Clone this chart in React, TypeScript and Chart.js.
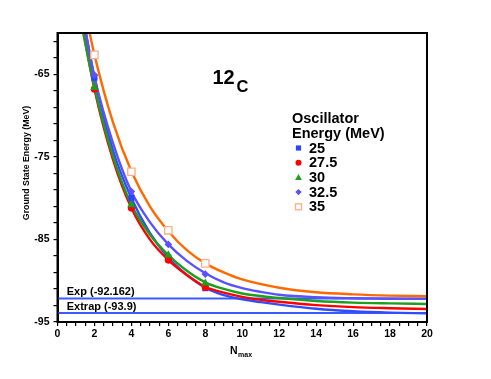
import React, { useEffect, useRef } from 'react';
import { Chart, registerables } from 'chart.js';
Chart.register(...registerables);

// ---- data ----
const seriesLabels = ['25', '27.5', '30', '32.5', '35'];
const pointN = [2, 4, 6, 8];
const points25 = [-65.4, -80.0, -87.2, -90.9];
const points275 = [-66.8, -81.2, -87.5, -90.8];
const points30 = [-66.6, -80.8, -86.9, -90.3];
const points325 = [-65.1, -79.2, -85.6, -89.2];
const points35 = [-62.65, -76.8, -83.9, -87.9];

const curve25N = [1.4, 2, 3, 4, 5, 6, 7, 8, 9, 10, 11, 12, 14, 16, 18, 20];
const curve25E = [-58.3, -65.4, -74.2, -80.0, -84.2, -87.2, -89.3, -90.85, -91.75, -92.25, -92.6, -92.9, -93.4, -93.7, -93.87, -93.95];
const curve275N = [1.3, 2, 3, 4, 5, 6, 7, 8, 9, 10, 11, 12, 14, 16, 18, 20];
const curve275E = [-58.6, -66.8, -75.3, -81.2, -85.0, -87.5, -89.3, -90.75, -91.45, -91.95, -92.3, -92.55, -92.95, -93.2, -93.33, -93.42];
const curve30N = [1.3, 2, 3, 4, 5, 6, 7, 8, 9, 10, 11, 12, 14, 16, 18, 20];
const curve30E = [-59.0, -66.6, -74.9, -80.8, -84.4, -86.9, -88.8, -90.2, -91.0, -91.55, -91.85, -92.1, -92.45, -92.65, -92.75, -92.82];
const curve325N = [1.4, 2, 3, 4, 5, 6, 7, 8, 9, 10, 11, 12, 14, 16, 18, 20];
const curve325E = [-58.4, -65.3, -73.3, -79.2, -82.9, -85.6, -87.6, -89.1, -90.2, -90.9, -91.35, -91.7, -92.0, -92.12, -92.18, -92.2];
const curve35N = [1.6, 2, 3, 4, 5, 6, 7, 8, 9, 10, 12, 14, 16, 18, 20];
const curve35E = [-58.5, -62.65, -70.8, -76.75, -81.0, -84.0, -86.3, -87.9, -89.0, -89.85, -90.85, -91.4, -91.65, -91.8, -91.88];

const expLabel = 'Exp';
const expValue = -92.162;
const extrapLabel = 'Extrap';
const extrapValue = -93.9;
const refRangeN = [0, 20];

const xMajorTicks = [0, 2, 4, 6, 8, 10, 12, 14, 16, 18, 20];
const yMajorTicks = [-95, -85, -75, -65];
const xMinorStep = 0.5;
const yMinorStep = 2;

const nucleusMass = '12';
const nucleusSymbol = 'C';
const legendTitle = ['Oscillator', 'Energy (MeV)'];
const xTitleMain = 'N';
const xTitleSub = 'max';
const yTitle = 'Ground State Energy (MeV)';

// ---- styles ----
const FONT = "'Liberation Sans', Arial, Helvetica, sans-serif";
const styles = [
  { line: '#2f4dff', fill: '#2a44ff', border: '#2a44ff', shape: 'rect', r: 4.3, bw: 0 },
  { line: '#ff0000', fill: '#ff0000', border: '#ff0000', shape: 'circle', r: 3.6, bw: 0 },
  { line: '#1e9e1e', fill: '#1e9e1e', border: '#1e9e1e', shape: 'triangle', r: 4.8, bw: 0 },
  { line: '#5b52ff', fill: '#5b52ff', border: '#5b52ff', shape: 'rectRot', r: 3.8, bw: 0 },
  { line: '#ff6a00', fill: '#ffffff', border: '#ffae88', shape: 'rect', r: 5.2, bw: 1.3 },
];
const REF_COLOR = '#3a5cff';

const zip = (xs: number[], ys: number[]) => xs.map((x, i) => ({ x, y: ys[i] }));

function buildTicks(min: number, max: number, step: number) {
  const out: { value: number }[] = [];
  const n = Math.round((max - min) / step);
  for (let i = 0; i <= n; i++) out.push({ value: +(min + i * step).toFixed(3) });
  return out;
}

function legendMarker(ctx: CanvasRenderingContext2D, i: number, x: number, y: number) {
  const st = styles[i];
  ctx.save();
  ctx.fillStyle = st.fill;
  ctx.strokeStyle = st.border;
  ctx.beginPath();
  if (i === 0) {
    ctx.fillRect(x - 2.6, y - 2.6, 5.2, 5.2);
  } else if (i === 1) {
    ctx.arc(x, y, 3, 0, Math.PI * 2);
    ctx.fill();
  } else if (i === 2) {
    ctx.moveTo(x, y - 3.4);
    ctx.lineTo(x + 3.4, y + 2.6);
    ctx.lineTo(x - 3.4, y + 2.6);
    ctx.closePath();
    ctx.fill();
  } else if (i === 3) {
    ctx.moveTo(x, y - 3.2);
    ctx.lineTo(x + 3.2, y);
    ctx.lineTo(x, y + 3.2);
    ctx.lineTo(x - 3.2, y);
    ctx.closePath();
    ctx.fill();
  } else {
    ctx.lineWidth = 1.3;
    ctx.fillStyle = '#fff';
    ctx.fillRect(x - 3, y - 3, 6, 6);
    ctx.strokeRect(x - 3, y - 3, 6, 6);
  }
  ctx.restore();
}

const decor = {
  id: 'decor',
  afterDatasetsDraw(chart: any) {
    const { ctx, chartArea: a, scales } = chart;
    const xs = scales.x, ys = scales.y;
    ctx.save();
    // frame
    ctx.strokeStyle = '#000';
    ctx.lineWidth = 2;
    ctx.strokeRect(a.left, a.top, a.right - a.left, a.bottom - a.top);

    // ref line labels
    ctx.fillStyle = '#000';
    ctx.textAlign = 'left';
    ctx.textBaseline = 'alphabetic';
    ctx.font = `bold 11px ${FONT}`;
    ctx.fillText(`${expLabel} (${expValue})`, xs.getPixelForValue(0.5), ys.getPixelForValue(expValue) - 3.5);
    ctx.fillText(`${extrapLabel} (${extrapValue})`, xs.getPixelForValue(0.5), ys.getPixelForValue(extrapValue) - 2.5);

    // nucleus label
    ctx.font = `bold 20px ${FONT}`;
    ctx.fillText(nucleusMass, 212.5, 83.5);
    ctx.font = `bold 16.5px ${FONT}`;
    ctx.fillText(nucleusSymbol, 236.5, 92);

    // legend
    ctx.font = `bold 14.5px ${FONT}`;
    ctx.textBaseline = 'middle';
    ctx.fillText(legendTitle[0], 292, 118.5);
    ctx.fillText(legendTitle[1], 292, 134);
    seriesLabels.forEach((lab, i) => {
      const yy = 148 + i * 14.7;
      legendMarker(ctx, i, 298.5, yy);
      ctx.fillStyle = '#000';
      ctx.fillText(lab, 309, yy + 0.5);
    });
    ctx.restore();

    // axis titles
    ctx.save();
    ctx.fillStyle = '#000';
    ctx.font = `bold 8.8px ${FONT}`;
    ctx.textAlign = 'center';
    ctx.textBaseline = 'middle';
    ctx.translate(27, 163);
    ctx.rotate(-Math.PI / 2);
    ctx.fillText(yTitle, 0, 0);
    ctx.restore();

    ctx.save();
    ctx.fillStyle = '#000';
    ctx.textAlign = 'left';
    ctx.textBaseline = 'alphabetic';
    ctx.font = `bold 10.5px ${FONT}`;
    ctx.fillText(xTitleMain, 230, 354);
    const wN = ctx.measureText(xTitleMain).width;
    ctx.font = `bold 7px ${FONT}`;
    ctx.fillText(xTitleSub, 230 + wN + 0.5, 357);
    ctx.restore();
  },
};

export default function App() {
  const ref = useRef<HTMLCanvasElement | null>(null);
  useEffect(() => {
    document.body.style.margin = '0';
    const canvas = ref.current!;
    const curves = [
      zip(curve25N, curve25E),
      zip(curve275N, curve275E),
      zip(curve30N, curve30E),
      zip(curve325N, curve325E),
      zip(curve35N, curve35E),
    ];
    const pts = [points25, points275, points30, points325, points35].map((p) => zip(pointN, p));
    const pointOrder = [4, 3, 2, 1, 0];

    const datasets: any[] = [];
    pts.forEach((d, i) => {
      const st = styles[i];
      datasets.push({
        type: 'line',
        label: seriesLabels[i] + ' pts',
        data: d,
        showLine: false,
        pointStyle: st.shape,
        pointRadius: st.r,
        pointBackgroundColor: st.fill,
        pointBorderColor: st.border,
        pointBorderWidth: st.bw,
        order: pointOrder[i],
      });
    });
    curves.forEach((d, i) => {
      datasets.push({
        type: 'line',
        label: seriesLabels[i],
        data: d,
        borderColor: styles[i].line,
        borderWidth: 2.4,
        pointRadius: 0,
        cubicInterpolationMode: 'monotone',
        fill: false,
        clip: 0,
        order: 10 + (4 - i),
      });
    });
    [expValue, extrapValue].forEach((v, i) => {
      datasets.push({
        type: 'line',
        label: i === 0 ? expLabel : extrapLabel,
        data: zip(refRangeN, [v, v]),
        borderColor: REF_COLOR,
        borderWidth: 2,
        pointRadius: 0,
        clip: 0,
        order: 20,
      });
    });

    const chart = new Chart(canvas, {
      type: 'line',
      data: { datasets },
      plugins: [decor],
      options: {
        responsive: false,
        animation: false,
        events: [],
        layout: { padding: { top: 33, right: 64, left: 0, bottom: 0 } },
        plugins: { legend: { display: false }, tooltip: { enabled: false }, title: { display: false } },
        scales: {
          x: {
            type: 'linear',
            min: 0,
            max: 20,
            afterBuildTicks: (s: any) => { s.ticks = buildTicks(0, 20, xMinorStep); },
            afterFit: (s: any) => { s.height = 57; },
            ticks: {
              autoSkip: false,
              maxRotation: 0,
              minRotation: 0,
              padding: 2,
              color: '#000',
              font: { family: FONT, size: 10.5, weight: 'bold' },
              callback: (v: any) => (xMajorTicks.includes(+v) ? String(v) : ''),
            },
            grid: { drawOnChartArea: false, drawTicks: true, tickLength: 4, color: '#000', lineWidth: 1.2 },
            border: { display: true, color: '#000', width: 2 },
          },
          y: {
            type: 'linear',
            min: -95,
            max: -60,
            afterBuildTicks: (s: any) => { s.ticks = buildTicks(-95, -61, yMinorStep); },
            afterFit: (s: any) => { s.width = 57.5; },
            ticks: {
              autoSkip: false,
              padding: 4,
              color: '#000',
              font: { family: FONT, size: 10.5, weight: 'bold' },
              callback: (v: any) => (yMajorTicks.includes(+v) ? String(v) : ''),
            },
            grid: { drawOnChartArea: false, drawTicks: true, tickLength: 4, color: '#000', lineWidth: 1.2 },
            border: { display: true, color: '#000', width: 2 },
          },
        },
      } as any,
    });
    return () => chart.destroy();
  }, []);
  return (
    <div style={{ width: 491, height: 379 }}>
      <canvas ref={ref} width={491} height={379} style={{ display: 'block' }} />
    </div>
  );
}
